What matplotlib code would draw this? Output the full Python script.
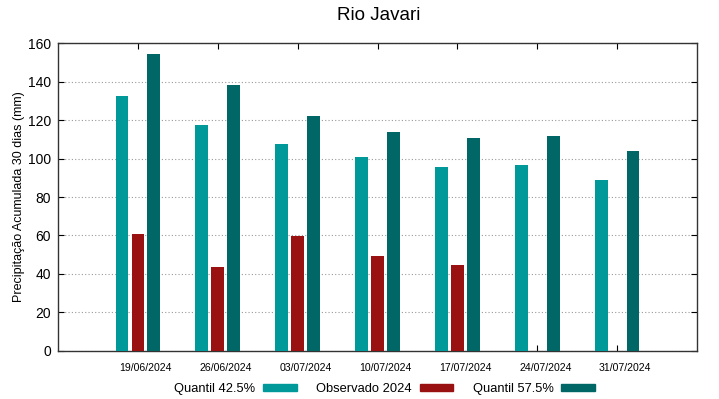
import numpy as np
import matplotlib.pyplot as plt
import matplotlib.transforms as mtransforms
from matplotlib.patches import Patch

plt.rcParams['font.family'] = ['Liberation Sans', 'DejaVu Sans']

# Dados
datas = ["19/06/2024", "26/06/2024", "03/07/2024", "10/07/2024",
         "17/07/2024", "24/07/2024", "31/07/2024"]
quantil_425 = [132.6, 117.3, 107.6, 101.0, 95.6, 96.8, 88.9]
observado_2024 = [60.7, 43.7, 59.5, 49.1, 44.4, np.nan, np.nan]
quantil_575 = [154.3, 138.5, 122.2, 113.8, 110.9, 111.8, 104.0]

cor_q425 = "#009999"
cor_obs = "#991111"
cor_q575 = "#006666"

x = np.arange(len(datas))
largura = 0.16
desloc = 0.2

fig = plt.figure(figsize=(7.19, 3.99), dpi=100)
ax = fig.add_axes([0.0807, 0.121, 0.8887, 0.7705])

ax.bar(x - desloc, quantil_425, largura, color=cor_q425, zorder=3)
ax.bar(x, observado_2024, largura, color=cor_obs, zorder=3)
ax.bar(x + desloc, quantil_575, largura, color=cor_q575, zorder=3)

ax.set_xlim(-1, len(datas))
ax.set_ylim(0, 160)
ax.set_yticks(np.arange(0, 161, 20))
ax.set_xticks(x)
ax.set_xticklabels(datas, fontsize=7.6)
ax.tick_params(axis='y', labelsize=10, direction='in', length=4, right=True, pad=5)
ax.tick_params(axis='x', direction='in', length=4, top=True, pad=9)

# rotulos de data levemente deslocados para a direita (como no original)
desl = mtransforms.ScaledTranslation(8 / 100, 0, fig.dpi_scale_trans)
for lbl in ax.get_xticklabels():
    lbl.set_transform(lbl.get_transform() + desl)

ax.yaxis.grid(True, linestyle=(0, (1, 2)), color="#999999", linewidth=0.8, zorder=0)

for s in ax.spines.values():
    s.set_color("#333333")
    s.set_linewidth(1.0)

ax.set_ylabel("Precipitação Acumulada 30 dias (mm)", fontsize=9, labelpad=2)
fig.text(0.526, 0.962, "Rio Javari", ha='center', va='center', fontsize=13.5)

handles = [Patch(color=cor_q425), Patch(color=cor_obs), Patch(color=cor_q575)]
rotulos = ["Quantil 42.5%", "Observado 2024", "Quantil 57.5%"]
fig.legend(handles, rotulos, loc='center', bbox_to_anchor=(0.535, 0.025),
           ncol=3, frameon=False, markerfirst=False, fontsize=9.3,
           handlelength=2.6, handleheight=0.45, handletextpad=0.6,
           columnspacing=1.5)

fig.savefig("out.png", dpi=100)
